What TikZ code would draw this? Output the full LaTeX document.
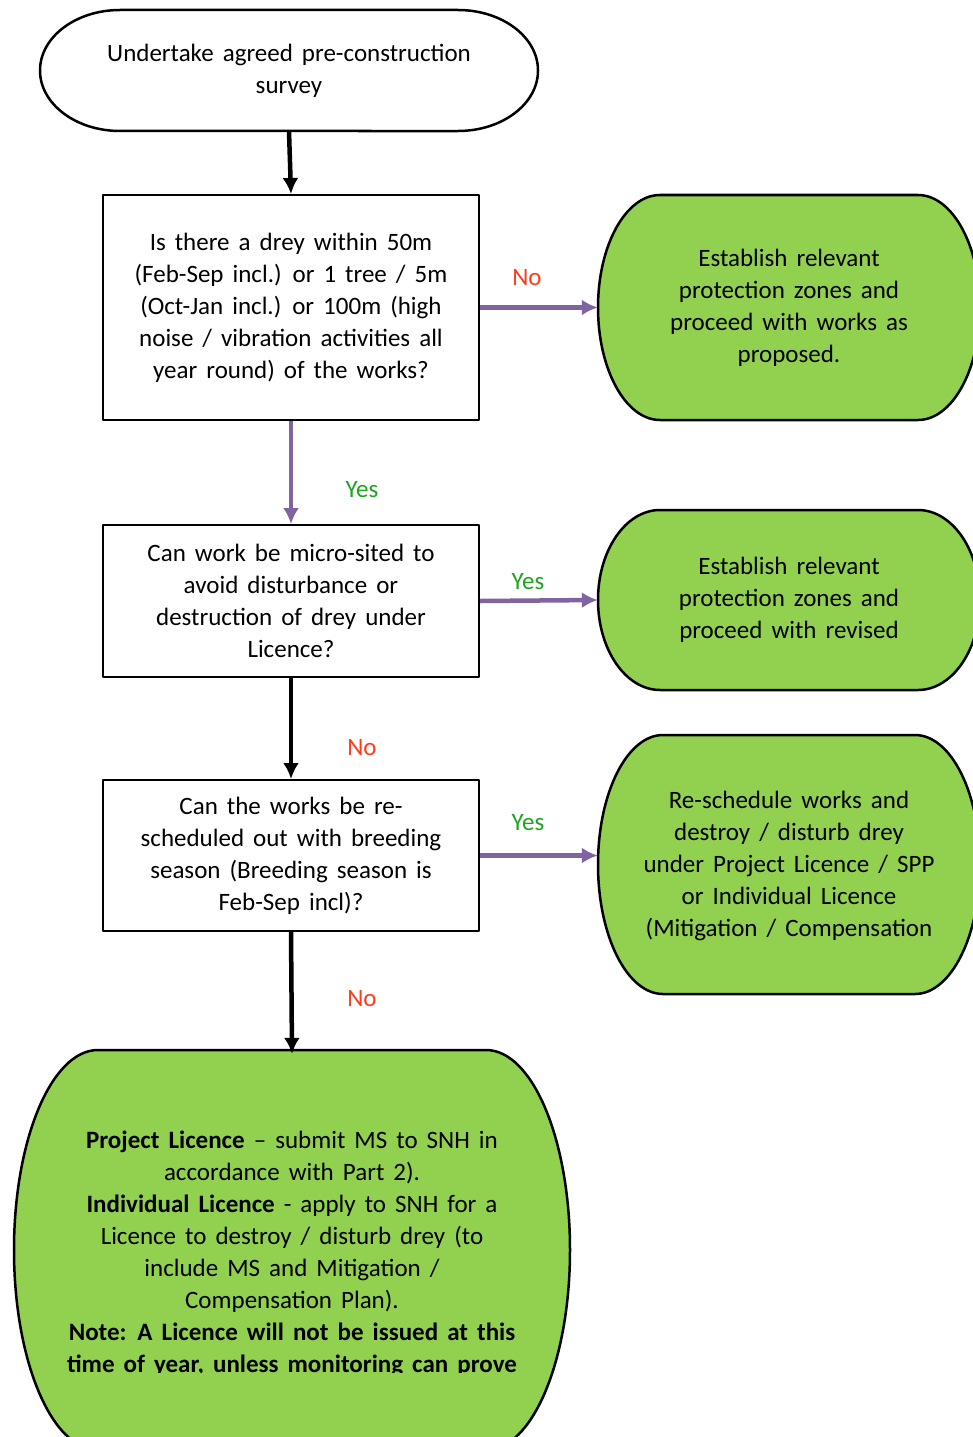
\documentclass[tikz,border=0pt]{standalone}
\usepackage{fontspec}
\setmainfont{Carlito}[WordSpace=1.6]
\usetikzlibrary{arrows.meta}

\definecolor{leafgreen}{HTML}{92D050}
\definecolor{flowpurple}{HTML}{8064A2}
\definecolor{nored}{HTML}{FF3B1C}
\definecolor{yesgreen}{HTML}{1DA51D}

\begin{document}
\begin{tikzpicture}[x=1bp,y=-1bp,>={Latex[length=16bp,width=16bp]},line join=bevel,
  every node/.style={font=\fontsize{25bp}{32bp}\selectfont,align=center,inner sep=0pt},
  askbox/.style={draw,line width=2bp,minimum width=376bp},
  termfill/.style={draw=black,line width=2.5bp,fill=leafgreen},
  blackflow/.style={->,line width=4.5bp},
  purpleflow/.style={->,line width=4.5bp,draw=flowpurple},
  nolbl/.style={text=nored},
  yeslbl/.style={text=yesgreen}]
\useasboundingbox (0,0) rectangle (972,1437);
%%
  % Node: start
\begin{scope}
  \filldraw [termfill,fill=white] (120,10) -- (458,10) arc[start angle=90,end angle=-90,x radius=80bp,y radius=60.5bp]
    -- (120,131) arc[start angle=270,end angle=90,x radius=80bp,y radius=60.5bp] -- cycle;
  \node (start) at (289,70.5) [minimum width=498bp,minimum height=121bp] {Undertake agreed pre-construction\\survey};
\end{scope}
  % Node: q_1
  \node (q1) at (291,307.5) [askbox,minimum height=225bp] {Is there a drey within 50m\\(Feb-Sep incl.) or 1 tree / 5m\\(Oct-Jan incl.) or 100m (high\\noise / vibration activities all\\year round) of the works?};
  % Node: g_1
\begin{scope}
  \filldraw [termfill] (660,195) -- (918,195) arc[start angle=90,end angle=-90,x radius=62bp,y radius=112.5bp]
    -- (660,420) arc[start angle=270,end angle=90,x radius=62bp,y radius=112.5bp] -- cycle;
  \node (g1) at (789,307.5) [minimum width=382bp,minimum height=225bp] {Establish relevant\\protection zones and\\proceed with works as\\proposed.};
\end{scope}
  % Node: q_2
  \node (q2) at (291,601) [askbox,minimum height=152bp] {Can work be micro-sited to\\avoid disturbance or\\destruction of drey under\\Licence?};
  % Node: g_2
\begin{scope}
  \filldraw [termfill] (660,510) -- (918,510) arc[start angle=90,end angle=-90,x radius=62bp,y radius=90bp]
    -- (660,690) arc[start angle=270,end angle=90,x radius=62bp,y radius=90bp] -- cycle;
  \node (g2) at (789,600) [minimum width=382bp,minimum height=180bp] {Establish relevant\\protection zones and\\proceed with revised};
\end{scope}
  % Node: q_3
  \node (q3) at (291,855.5) [askbox,minimum height=151bp] {Can the works be re-\\scheduled out with breeding\\season (Breeding season is\\Feb-Sep incl)?};
  % Node: g_3
\begin{scope}
  \filldraw [termfill] (663,735) -- (915,735) arc[start angle=90,end angle=-90,x radius=65bp,y radius=129.5bp]
    -- (663,994) arc[start angle=270,end angle=90,x radius=65bp,y radius=129.5bp] -- cycle;
  \node (g3) at (789,866) [minimum width=382bp,minimum height=259bp] {Re-schedule works and\\destroy / disturb drey\\under Project Licence / SPP\\or Individual Licence\\(Mitigation / Compensation};
\end{scope}
  % Node: g_4
\begin{scope}
  \filldraw [termfill] (98,1050) -- (486,1050) arc[start angle=90,end angle=-90,x radius=84bp,y radius=200bp]
    -- (98,1450) arc[start angle=270,end angle=90,x radius=84bp,y radius=200bp] -- cycle;
  \clip (0,0) rectangle (972,1372);
  \node (g4) at (292,1254) [minimum width=556bp,minimum height=400bp] {\textbf{Project Licence} -- submit MS to SNH in\\accordance with Part 2).\\\textbf{Individual Licence} - apply to SNH for a\\Licence to destroy / disturb drey (to\\include MS and Mitigation /\\Compensation Plan).\\\textbf{Note: A Licence will not be issued at this}\\\textbf{time of year, unless monitoring can prove}};
\end{scope}
  % Edge: start -> q_1
  \draw [blackflow] (start.south) -- (q1.north);
  % Edge: q_1 -> g_1
  \draw [purpleflow] (q1.east) -- (g1.west);
  \node (no1) at (527,278) [nolbl] {No};
  % Edge: q_1 -> q_2
  \draw [purpleflow] (q1.south) -- (q2.north);
  \node (yes1) at (362,490) [yeslbl] {Yes};
  % Edge: q_2 -> g_2
  \draw [purpleflow] (q2.east) -- (g2.west);
  \node (yes2) at (528,582) [yeslbl] {Yes};
  % Edge: q_2 -> q_3
  \draw [blackflow] (q2.south) -- (q3.north);
  \node (no2) at (362,748) [nolbl] {No};
  % Edge: q_3 -> g_3
  \draw [purpleflow] (q3.east) -- (q3.east -| g3.west);
  \node (yes3) at (528,823) [yeslbl] {Yes};
  % Edge: q_3 -> g_4
  \draw [blackflow] (q3.south) -- (g4.north);
  \node (no3) at (362,999) [nolbl] {No};
%
\end{tikzpicture}
\end{document}
